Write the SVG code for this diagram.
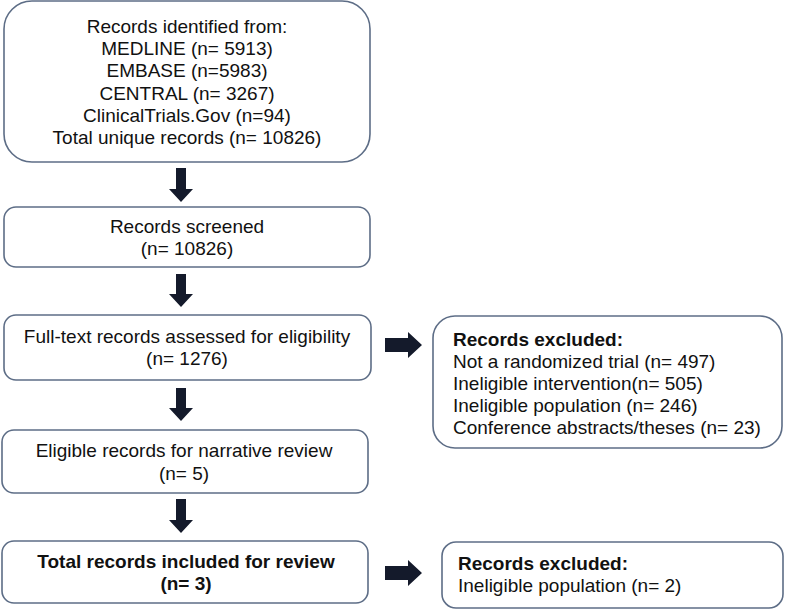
<svg xmlns="http://www.w3.org/2000/svg" width="786" height="611" viewBox="0 0 786 611">
<style>
.box{fill:#fff;stroke:#5d6d86;stroke-width:1.6}
.t{font-family:"Liberation Sans",Arial,sans-serif;font-size:19px;fill:#111}
.c{text-anchor:middle}
.b{font-weight:bold}
.arr{fill:#141a2b}
</style>
<rect width="786" height="611" fill="#fff"/>
<g id="connectors">
<path class="arr" d="M176,168 H186 V189 H193 L181,202 L169,189 H176 Z"/>
<path class="arr" d="M176,274 H186 V294 H193 L181,307 L169,294 H176 Z"/>
<path class="arr" d="M176,388 H186 V408 H193 L181,421 L169,408 H176 Z"/>
<path class="arr" d="M176,499 H186 V520 H193 L181,533 L169,520 H176 Z"/>
<path class="arr" d="M385,338 H408 V332 L422,345 L408,358 V352 H385 Z"/>
<path class="arr" d="M385,566 H408 V560 L422,573 L408,586 V580 H385 Z"/>
</g>
<g id="identified">
<rect class="box" x="4" y="1" width="366" height="161" rx="28"/>
<text class="t c" x="187" y="33">Records identified from:</text>
<text class="t c" x="187" y="55">MEDLINE (n= 5913)</text>
<text class="t c" x="187" y="77">EMBASE (n=5983)</text>
<text class="t c" x="187" y="99.5">CENTRAL (n= 3267)</text>
<text class="t c" x="187" y="122">ClinicalTrials.Gov (n=94)</text>
<text class="t c" x="187" y="144">Total unique records (n= 10826)</text>
</g>
<g id="screened">
<rect class="box" x="4" y="207" width="366" height="60" rx="12"/>
<text class="t c" x="187" y="233">Records screened</text>
<text class="t c" x="187" y="255">(n= 10826)</text>
</g>
<g id="fulltext">
<rect class="box" x="4" y="315" width="367" height="65" rx="12"/>
<text class="t c" x="187" y="343">Full-text records assessed for eligibility</text>
<text class="t c" x="187" y="365">(n= 1276)</text>
</g>
<g id="eligible">
<rect class="box" x="2" y="430" width="366" height="63" rx="12"/>
<text class="t c" x="184" y="457">Eligible records for narrative review</text>
<text class="t c" x="184" y="480">(n= 5)</text>
</g>
<g id="total">
<rect class="box" x="2" y="541" width="366" height="62" rx="12"/>
<text class="t c b" x="186" y="568">Total records included for review</text>
<text class="t c b" x="186" y="590">(n= 3)</text>
</g>
<g id="excluded1">
<rect class="box" x="433" y="316" width="349" height="132" rx="22"/>
<text class="t b" x="453" y="346">Records excluded:</text>
<text class="t" x="453" y="368">Not a randomized trial (n= 497)</text>
<text class="t" x="453" y="390">Ineligible intervention(n= 505)</text>
<text class="t" x="453" y="412">Ineligible population (n= 246)</text>
<text class="t" x="453" y="434">Conference abstracts/theses (n= 23)</text>
</g>
<g id="excluded2">
<rect class="box" x="442" y="542" width="341" height="66" rx="14"/>
<text class="t b" x="458" y="570">Records excluded:</text>
<text class="t" x="458" y="592">Ineligible population (n= 2)</text>
</g>
</svg>
